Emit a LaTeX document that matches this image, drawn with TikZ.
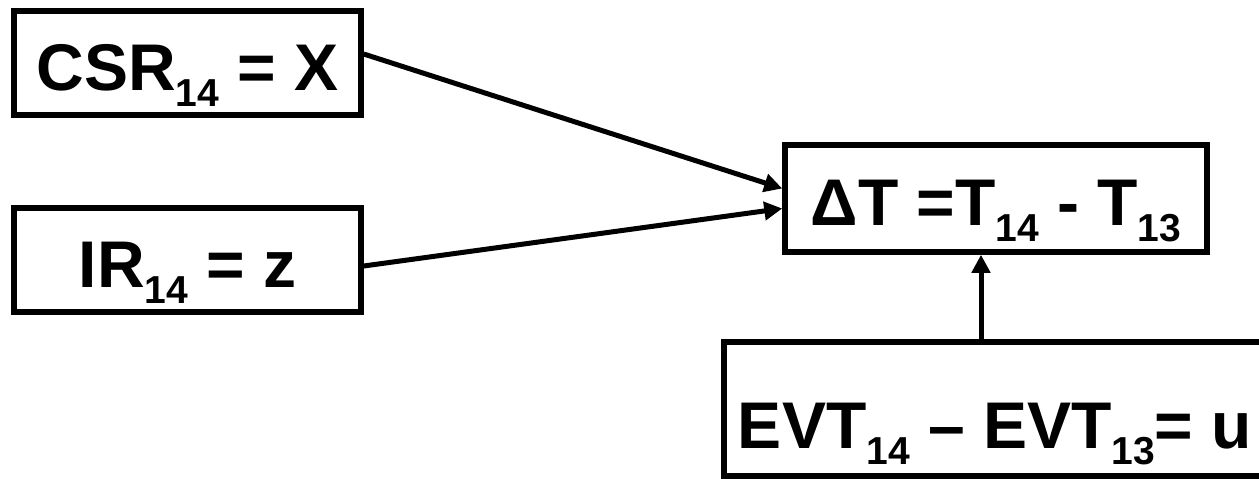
\documentclass[tikz,border=0pt]{standalone}
\usepackage{fontspec}
\setmainfont{Liberation Sans}
\usetikzlibrary{arrows.meta}
% lowered subscript digits in a smaller size
\newcommand\subnum[1]{\raisebox{-16pt}{\fontsize{39}{42}\selectfont #1}}
\begin{document}
\begin{tikzpicture}[x=1pt,y=-1pt,
  boxfont/.style={font=\fontsize{66}{80}\selectfont\bfseries},
  box/.style={draw, line width=5.5pt, rectangle, inner sep=0pt, boxfont,
    text height=60pt, text depth=6pt},
  conn/.style={line width=5pt, -{Triangle[length=18pt,width=18pt]}}]
\useasboundingbox (0,0) rectangle (1259,479);
\node[box, minimum width=347pt, minimum height=104pt] (csr) at (187.5,63) {CSR\subnum{14} = X};
\node[box, minimum width=347pt, minimum height=104pt] (ir) at (187.5,260) {IR\subnum{14} = z};
\node[box, minimum width=422pt, minimum height=107pt] (dt) at (996,198.5) {ΔT =T\subnum{14} - T\subnum{13}};
% the lower box runs past the right edge of the page
\node[box, minimum width=600pt, minimum height=134pt] (evt) at (1024,409) {};
\node[boxfont, inner sep=0pt, anchor=base] (evtlabel) at (995,448) {EVT\subnum{14} – EVT\subnum{13}= u};
\draw[conn] ([yshift=9pt]csr.east) -- ([yshift=10pt]dt.west);
\draw[conn] ([yshift=-6pt]ir.east) -- ([yshift=-10pt]dt.west);
\draw[conn] ([xshift=-43pt]evt.north) -- ([xshift=-15pt]dt.south);
\end{tikzpicture}
\end{document}
